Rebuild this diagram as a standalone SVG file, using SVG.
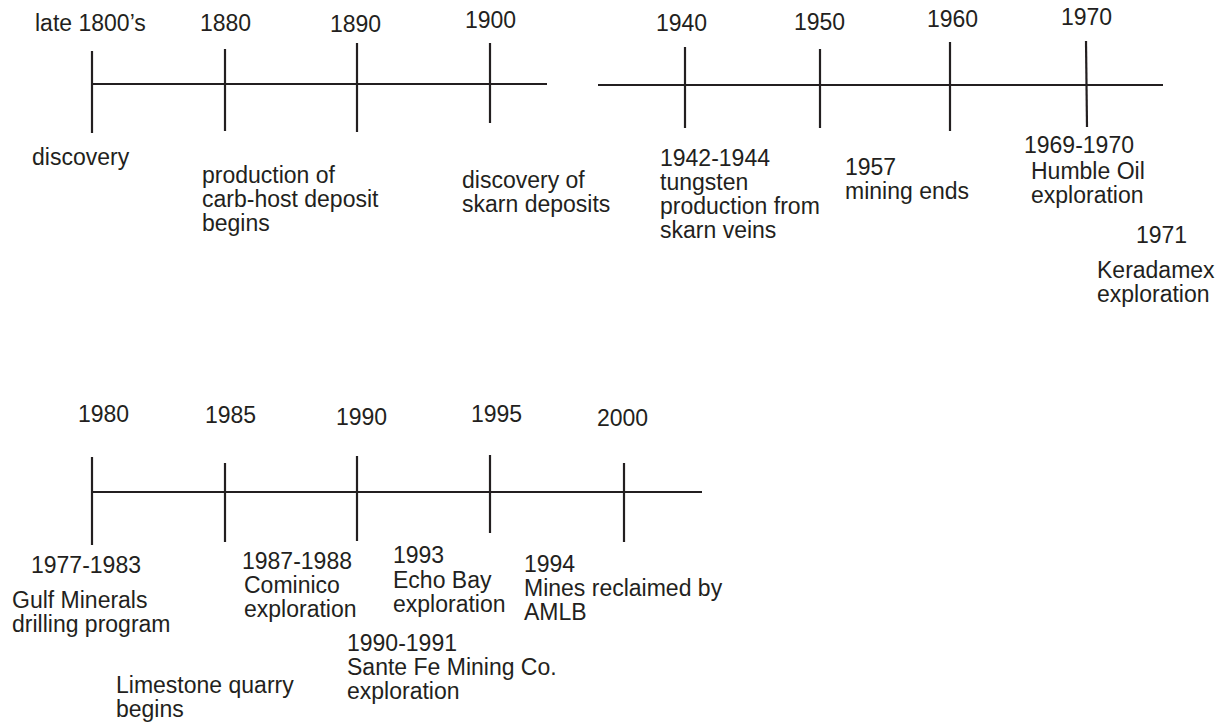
<svg xmlns="http://www.w3.org/2000/svg" width="1229" height="727" viewBox="0 0 1229 727">
<style>
text{font-family:"Liberation Sans",Arial,sans-serif;font-size:23px;fill:#231f20}
line{stroke:#231f20;stroke-width:2.2}
</style>
<rect width="1229" height="727" fill="#fff"/>
<g id="connectors">
<line x1="92" y1="84" x2="547" y2="84"/>
<line x1="598" y1="85" x2="1163" y2="85"/>
<line x1="92" y1="492" x2="702" y2="492"/>
</g>
<g id="tick-late1800s"><line x1="92" y1="51" x2="92" y2="133"/><text x="35" y="31">late 1800’s</text></g>
<g id="tick-1880"><line x1="225" y1="49" x2="225" y2="131"/><text x="200" y="31">1880</text></g>
<g id="tick-1890"><line x1="357" y1="43" x2="357" y2="132"/><text x="330" y="32">1890</text></g>
<g id="tick-1900"><line x1="490" y1="43" x2="490" y2="123"/><text x="465" y="28">1900</text></g>
<g id="tick-1940"><line x1="685" y1="47" x2="685" y2="128"/><text x="656" y="31">1940</text></g>
<g id="tick-1950"><line x1="820" y1="49" x2="820" y2="128"/><text x="794" y="30">1950</text></g>
<g id="tick-1960"><line x1="950" y1="42" x2="950" y2="131"/><text x="927" y="27">1960</text></g>
<g id="tick-1970"><line x1="1086" y1="41" x2="1087" y2="127"/><text x="1061" y="25">1970</text></g>
<g id="ev-discovery"><text x="32" y="165">discovery</text></g>
<g id="ev-production"><text x="202" y="183">production of</text><text x="202" y="207">carb-host deposit</text><text x="202" y="231">begins</text></g>
<g id="ev-skarn"><text x="462" y="188">discovery of</text><text x="462" y="212">skarn deposits</text></g>
<g id="ev-1942"><text x="660" y="166">1942-1944</text><text x="660" y="190">tungsten</text><text x="660" y="214">production from</text><text x="660" y="238">skarn veins</text></g>
<g id="ev-1957"><text x="845" y="175">1957</text><text x="845" y="199">mining ends</text></g>
<g id="ev-1969"><text x="1024" y="153">1969-1970</text><text x="1031" y="179">Humble Oil</text><text x="1031" y="203">exploration</text></g>
<g id="ev-1971"><text x="1136" y="243">1971</text><text x="1097" y="278">Keradamex</text><text x="1097" y="302">exploration</text></g>
<g id="tick-1980"><line x1="92" y1="457" x2="92" y2="545"/><text x="78" y="422">1980</text></g>
<g id="tick-1985"><line x1="225" y1="463" x2="225" y2="542"/><text x="205" y="423">1985</text></g>
<g id="tick-1990"><line x1="357" y1="456" x2="357" y2="541"/><text x="336" y="425">1990</text></g>
<g id="tick-1995"><line x1="490" y1="455" x2="490" y2="533"/><text x="471" y="422">1995</text></g>
<g id="tick-2000"><line x1="624" y1="463" x2="624" y2="542"/><text x="597" y="426">2000</text></g>
<g id="ev-1977"><text x="31" y="573">1977-1983</text><text x="12" y="608">Gulf Minerals</text><text x="12" y="632">drilling program</text></g>
<g id="ev-1987"><text x="242" y="569">1987-1988</text><text x="244" y="593">Cominico</text><text x="244" y="617">exploration</text></g>
<g id="ev-1993"><text x="393" y="563">1993</text><text x="393" y="588">Echo Bay</text><text x="393" y="612">exploration</text></g>
<g id="ev-1994"><text x="524" y="572">1994</text><text x="524" y="596">Mines reclaimed by</text><text x="524" y="620">AMLB</text></g>
<g id="ev-1990"><text x="347" y="651">1990-1991</text><text x="347" y="675">Sante Fe Mining Co.</text><text x="347" y="699">exploration</text></g>
<g id="ev-limestone"><text x="116" y="693">Limestone quarry</text><text x="116" y="717">begins</text></g>
</svg>
